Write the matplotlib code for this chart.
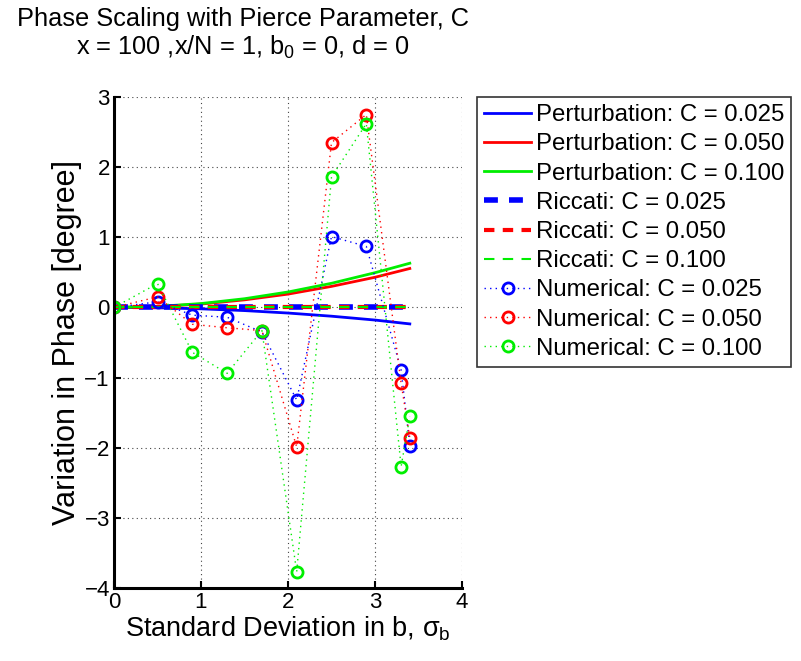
import matplotlib
matplotlib.use('Agg')
import matplotlib.pyplot as plt

plt.rcParams['font.family'] = ['Liberation Sans', 'DejaVu Sans']
plt.rcParams['mathtext.fontset'] = 'custom'
plt.rcParams['mathtext.rm'] = 'Liberation Sans'
plt.rcParams['mathtext.it'] = 'Liberation Sans'
plt.rcParams['mathtext.sf'] = 'Liberation Sans'

# data
c_labels = ['0.025', '0.050', '0.100']
colors = ['#0000ff', '#ff0000', '#00ee00']

# perturbation curves
x_pert = [0, 0.5, 1.0, 1.5, 2.0, 2.5, 3.0, 3.4]
pert_025 = [0, -0.005, -0.02, -0.045, -0.08, -0.125, -0.18, -0.235]
pert_050 = [0, 0.012, 0.048, 0.108, 0.19, 0.30, 0.43, 0.555]
pert_100 = [0, 0.014, 0.055, 0.124, 0.22, 0.344, 0.495, 0.63]

# riccati (flat at zero)
x_ric = [0, 3.4]
ric_025 = [0, 0]
ric_050 = [0, 0]
ric_100 = [0, 0]

# numerical results
x_num = [0, 0.5, 0.9, 1.3, 1.7, 2.1, 2.5, 2.9, 3.3, 3.4]
num_025 = [0, 0.08, -0.11, -0.14, -0.35, -1.32, 1.01, 0.87, -0.89, -1.97]
num_050 = [0, 0.15, -0.24, -0.29, -0.33, -1.99, 2.35, 2.75, -1.08, -1.86]
num_100 = [0, 0.34, -0.64, -0.94, -0.33, -3.77, 1.86, 2.62, -2.27, -1.55]

fig = plt.figure(figsize=(8.01, 6.61), dpi=100)
ax = fig.add_axes([114 / 801, 1 - 588 / 661, 348 / 801, 491 / 661])

handles = []
for ys, col, lab in zip([pert_025, pert_050, pert_100], colors, c_labels):
    h, = ax.plot(x_pert, ys, '-', color=col, lw=2, label=f'Perturbation: C = {lab}')
    handles.append(h)

ric_widths = [4, 3, 1.5]
for ys, col, lab, lw in zip([ric_025, ric_050, ric_100], colors, c_labels, ric_widths):
    h, = ax.plot(x_ric, ys, '--', color=col, lw=lw, dashes=(2.5, 2) if lw > 2 else (5, 4),
                 label=f'Riccati: C = {lab}')
    handles.append(h)

for ys, col, lab in zip([num_025, num_050, num_100], colors, c_labels):
    h, = ax.plot(x_num, ys, color=col, lw=1, dashes=(1, 3), marker='o', ms=8, mfc='none',
                 mew=2, label=f'Numerical: C = {lab}')
    handles.append(h)

ax.set_xlim(0, 4)
ax.set_ylim(-4, 3)
ax.set_xticks([0, 1, 2, 3, 4])
ax.set_yticks(range(-4, 4))
ax.set_yticklabels(['\u2212' + str(-v) if v < 0 else str(v) for v in range(-4, 4)])
ax.grid(True, color='#444444', lw=0.8, dashes=(1, 3))
ax.tick_params(direction='in', labelsize=16, width=1.5, length=5, pad=3)
for s in ['top', 'right']:
    ax.spines[s].set_visible(False)
for s in ['left', 'bottom']:
    ax.spines[s].set_linewidth(2.2)
ax.set_xlabel(r'Standard Deviation in b, $\sigma_\mathrm{b}$', fontsize=19.5, labelpad=1)
ax.set_ylabel('Variation in Phase [degree]', fontsize=22, labelpad=2)

fig.text(243 / 801, 1 - 19 / 661, 'Phase Scaling with Pierce Parameter, C',
         ha='center', va='center', fontsize=18.3)
fig.text(243 / 801, 1 - 47 / 661, r'x = 100 ,x/N = 1, b$_0$ = 0, d = 0',
         ha='center', va='center', fontsize=18.3)

leg = fig.legend(handles=handles, loc='upper left', bbox_to_anchor=(477 / 801, 1 - 97 / 661),
                 fontsize=17.3, frameon=True, fancybox=False, edgecolor='black',
                 handlelength=1.95, handletextpad=0.2, labelspacing=0.3,
                 borderpad=0.3, borderaxespad=0)
leg.get_frame().set_linewidth(1.2)

fig.savefig('out.png', dpi=100)
